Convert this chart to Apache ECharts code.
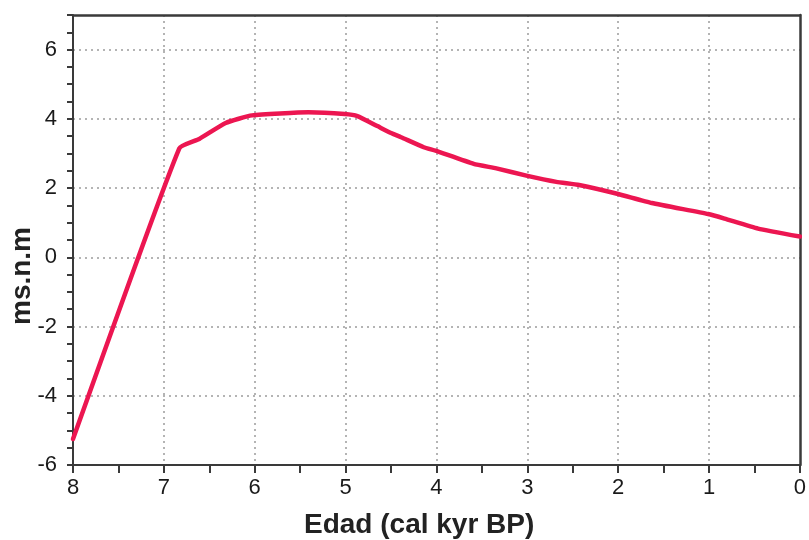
<!DOCTYPE html>
<html>
<head>
<meta charset="utf-8">
<script src="https://cdn.jsdelivr.net/npm/echarts@6/dist/echarts.min.js"></script>
<style>
html,body{margin:0;padding:0;background:#fff;}
#c{width:809px;height:540px;}
</style>
</head>
<body>
<div id="c"></div>
<script>
// Data
var ageKyr = [8.0, 6.83, 6.61, 6.32, 6.03, 5.41, 5.01, 4.87, 4.65, 4.50, 4.39, 4.14, 4.01, 3.59, 3.34, 3.01, 2.68, 2.43, 2.00, 1.63, 1.01, 0.83, 0.46, 0.0];
var seaLevel = [-5.25, 3.15, 3.42, 3.88, 4.10, 4.19, 4.14, 4.08, 3.79, 3.59, 3.47, 3.18, 3.08, 2.70, 2.57, 2.36, 2.18, 2.09, 1.83, 1.57, 1.25, 1.12, 0.83, 0.60];
var xTitle = 'Edad (cal kyr BP)';
var yTitle = 'ms.n.m';

var points = ageKyr.map(function (a, i) { return [a, seaLevel[i]]; });

var chart = echarts.init(document.getElementById('c'), null, {renderer: 'canvas'});
var font = 'Liberation Sans, Arial, Helvetica, sans-serif';
var axisColor = '#3a3a3a';
var gridLine = {show: true, showMinLine: false, showMaxLine: false, lineStyle: {color: '#b4b4b4', width: 2, type: [2, 4]}};

chart.setOption({
  animation: false,
  backgroundColor: '#fff',
  grid: {left: 73, right: 3, top: 15, bottom: 75, show: false},
  xAxis: [{
    type: 'value', min: 0, max: 8, interval: 1, inverse: true, position: 'bottom',
    axisLine: {show: true, onZero: false, lineStyle: {color: axisColor, width: 2}},
    axisTick: {show: true, length: 8, lineStyle: {color: axisColor, width: 2}},
    minorTick: {show: true, splitNumber: 2, length: 8, lineStyle: {color: axisColor, width: 2}},
    axisLabel: {color: '#1a1a1a', fontSize: 22, fontFamily: font, margin: 12},
    splitLine: gridLine
  }, {
    type: 'value', min: 0, max: 8, position: 'top', inverse: true,
    axisLine: {show: true, onZero: false, lineStyle: {color: axisColor, width: 2.5}},
    axisTick: {show: false}, axisLabel: {show: false}, splitLine: {show: false}
  }],
  yAxis: [{
    type: 'value', min: -6, max: 7, interval: 0.5, position: 'left',
    axisLine: {show: true, onZero: false, lineStyle: {color: axisColor, width: 2}},
    axisTick: {show: true, length: 6, lineStyle: {color: axisColor, width: 2}},
    axisLabel: {
      color: '#1a1a1a', fontSize: 22, fontFamily: font, margin: 16,
      formatter: function (v) { return (v % 2 === 0) ? String(v) : ''; }
    },
    splitLine: {show: false}
  }, {
    type: 'value', min: -6, max: 7, interval: 2, position: 'right',
    axisLine: {show: true, onZero: false, lineStyle: {color: axisColor, width: 2.5}},
    axisTick: {show: false}, axisLabel: {show: false},
    splitLine: gridLine
  }],
  graphic: [{
    type: 'text', left: 304, top: 511,
    style: {text: xTitle, font: 'bold 28px ' + font, fill: '#222'}
  }, {
    type: 'text', x: 8, y: 276, rotation: Math.PI / 2,
    style: {text: yTitle, font: 'bold 28px ' + font, fill: '#222', align: 'center', verticalAlign: 'top'}
  }],
  series: [{
    type: 'line', data: points, xAxisIndex: 0, yAxisIndex: 0,
    showSymbol: false, symbol: 'none',
    lineStyle: {color: '#ec1651', width: 4.5, join: 'round', cap: 'round'},
    smooth: 0.15
  }]
});
</script>
</body>
</html>
